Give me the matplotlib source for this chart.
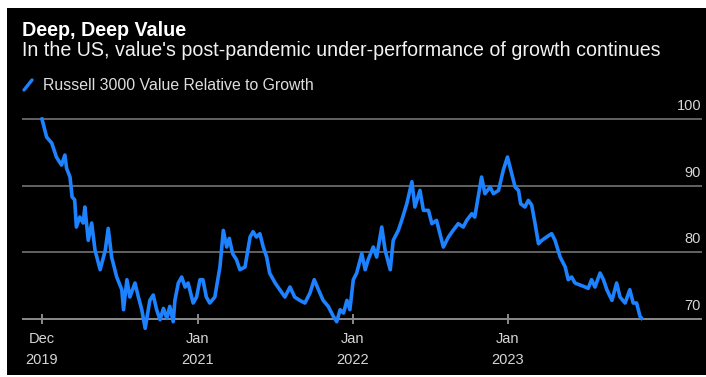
import pandas as pd
import numpy as np
import matplotlib
matplotlib.use("Agg")
import matplotlib.pyplot as plt
from matplotlib.patches import Rectangle
from matplotlib.lines import Line2D
import matplotlib.transforms as mtransforms

plt.rcParams['font.family'] = ['Liberation Sans', 'DejaVu Sans']

# Russell 3000 Value relative to Growth, rebased to 100 at end of 2019
dates = [
    "2019-12-31", "2020-01-11", "2020-01-23", "2020-02-03", "2020-02-15", "2020-02-23",
    "2020-02-27", "2020-03-06", "2020-03-11", "2020-03-17", "2020-03-21", "2020-03-29",
    "2020-04-06", "2020-04-10", "2020-04-18", "2020-04-26", "2020-05-04", "2020-05-16",
    "2020-05-28", "2020-06-04", "2020-06-12", "2020-06-24", "2020-07-06", "2020-07-10",
    "2020-07-18", "2020-07-25", "2020-08-06", "2020-08-14", "2020-08-22", "2020-08-30",
    "2020-09-10", "2020-09-18", "2020-09-26", "2020-10-04", "2020-10-12", "2020-10-20",
    "2020-10-27", "2020-11-04", "2020-11-08", "2020-11-16", "2020-11-24", "2020-12-02",
    "2020-12-09", "2020-12-13", "2020-12-21", "2020-12-29", "2021-01-06", "2021-01-13",
    "2021-01-21", "2021-01-29", "2021-02-10", "2021-02-22", "2021-03-02", "2021-03-10",
    "2021-03-16", "2021-03-24", "2021-04-02", "2021-04-10", "2021-04-22", "2021-05-04",
    "2021-05-11", "2021-05-19", "2021-05-27", "2021-06-04", "2021-06-12", "2021-06-19",
    "2021-07-02", "2021-07-13", "2021-07-25", "2021-08-06", "2021-08-17", "2021-08-29",
    "2021-09-10", "2021-09-22", "2021-10-02", "2021-10-12", "2021-10-23", "2021-11-04",
    "2021-11-16", "2021-11-24", "2021-12-02", "2021-12-10", "2021-12-18", "2021-12-25",
    "2022-01-02", "2022-01-10", "2022-01-22", "2022-01-30", "2022-02-06", "2022-02-18",
    "2022-02-26", "2022-03-10", "2022-03-18", "2022-03-30", "2022-04-06", "2022-04-18",
    "2022-04-26", "2022-05-08", "2022-05-20", "2022-05-27", "2022-06-08", "2022-06-16",
    "2022-06-28", "2022-07-06", "2022-07-17", "2022-07-25", "2022-08-02", "2022-08-14",
    "2022-08-25", "2022-09-06", "2022-09-18", "2022-09-26", "2022-10-08", "2022-10-15",
    "2022-10-23", "2022-10-31", "2022-11-08", "2022-11-20", "2022-11-28", "2022-12-10",
    "2022-12-21", "2022-12-31", "2023-01-10", "2023-01-18", "2023-01-26", "2023-01-31",
    "2023-02-10", "2023-02-18", "2023-02-26", "2023-03-06", "2023-03-14", "2023-03-22",
    "2023-04-02", "2023-04-14", "2023-04-22", "2023-05-04", "2023-05-16", "2023-05-23",
    "2023-05-31", "2023-06-08", "2023-06-20", "2023-07-02", "2023-07-09", "2023-07-17",
    "2023-07-25", "2023-08-06", "2023-08-14", "2023-08-22", "2023-09-03", "2023-09-14",
    "2023-09-22", "2023-10-04", "2023-10-15", "2023-10-23", "2023-10-31", "2023-11-08",
    "2023-11-12",
]
values = [
    100.0, 97.3, 96.4, 94.3, 93.1, 94.6,
    92.6, 91.3, 88.3, 87.9, 83.8, 85.3,
    84.4, 86.8, 81.8, 84.4, 80.3, 77.4,
    80.3, 83.6, 79.3, 76.3, 74.4, 71.4,
    75.9, 73.3, 75.4, 73.3, 71.4, 68.6,
    72.8, 73.6, 71.4, 69.9, 71.6, 70.1,
    71.9, 69.6, 72.8, 75.4, 76.3, 74.8,
    75.4, 74.4, 72.4, 73.3, 75.9, 75.9,
    73.3, 72.4, 73.3, 77.8, 83.3, 80.8,
    82.1, 79.8, 78.9, 77.4, 77.8, 82.3,
    83.1, 82.3, 82.8, 80.8, 79.3, 76.9,
    75.4, 74.4, 73.3, 74.8, 73.3, 72.8,
    72.4, 73.9, 75.9, 74.4, 72.8, 71.9,
    70.4, 69.6, 71.4, 70.9, 72.8, 71.4,
    75.9, 76.9, 79.8, 77.4, 78.9, 80.8,
    79.3, 83.8, 80.3, 77.4, 81.8, 83.3,
    84.8, 87.3, 90.6, 86.8, 89.3, 86.3,
    86.3, 84.3, 84.8, 82.8, 80.8, 82.3,
    83.3, 84.3, 83.8, 84.8, 85.8, 85.3,
    88.3, 91.3, 88.8, 89.8, 88.8, 89.3,
    92.3, 94.3, 91.8, 89.8, 89.3, 87.3,
    86.8, 87.8, 87.1, 84.3, 81.3, 81.8,
    82.3, 82.8, 81.8, 79.3, 77.8, 75.9,
    76.3, 75.4, 75.1, 74.8, 74.6, 75.9,
    74.8, 76.9, 75.9, 74.4, 72.8, 75.4,
    73.3, 72.4, 74.4, 72.4, 72.4, 70.4,
    70.1,
]

tick_dates = ["2019-12-31", "2021-01-01", "2022-01-01", "2023-01-01"]
tick_labels = ["Dec\n2019", "Jan\n2021", "Jan\n2022", "Jan\n2023"]
y_levels = [70, 80, 90, 100]

series = pd.Series(values, index=pd.to_datetime(dates))

W, H = 706, 377
fig = plt.figure(figsize=(W / 100, H / 100), dpi=100, facecolor="white")

# black card behind everything
fig.patches.append(Rectangle((7 / W, 2 / H), 699 / W, 367 / H,
                             transform=fig.transFigure, facecolor="black",
                             edgecolor="none", zorder=-10))

ax = fig.add_axes([22 / W, 41.3 / H, 680 / W, 220 / H])
ax.set_zorder(1)
ax.set_facecolor("none")
for s in ax.spines.values():
    s.set_visible(False)

grid_col = "#6a6a6a"
for lvl in y_levels[1:]:
    ax.axhline(lvl, color=grid_col, lw=1.3, zorder=1)
ax.axhline(y_levels[0], color="#8a8a8a", lw=1.4, zorder=1)

ax.plot(series.index, series.values, color="#1c82ff", lw=2.6,
        solid_joinstyle="round", zorder=3, clip_on=False)

ax.set_xlim(pd.Timestamp("2019-11-14"), pd.Timestamp("2024-04-02"))
ax.set_ylim(67.5, 100.5)

# y labels sit on the right, just above their grid line
lab_tr = mtransforms.blended_transform_factory(ax.transAxes, ax.transData)
lab_tr = mtransforms.offset_copy(lab_tr, fig=fig, x=-1, y=9, units="dots")
for lvl in y_levels:
    ax.text(1.0, lvl, str(lvl), transform=lab_tr, ha="right", va="baseline",
            color="#d6d6d6", fontsize=10.5)
ax.set_yticks([])

# x ticks hang from the 70 line, labels under them
ax.set_xticks([])
data_tr = mtransforms.blended_transform_factory(ax.transData, ax.transData)
lab_x_tr = mtransforms.offset_copy(data_tr, fig=fig, y=-13, units="dots")
for d, lab in zip(pd.to_datetime(tick_dates), tick_labels):
    ax.plot([d, d], [70, 70], marker="|", markersize=7, mew=1.2,
            color="#8a8a8a", zorder=2, clip_on=False)
    ax.text(d, 70, lab, transform=lab_x_tr, ha="center", va="top",
            color="#d6d6d6", fontsize=10.5, linespacing=1.6)

# headline, subtitle and legend
fig.text(22 / W, 1 - 36 / H, "Deep, Deep Value", color="white",
         fontsize=14.2, fontweight="bold", va="baseline", ha="left")
fig.text(22 / W, 1 - 56 / H,
         "In the US, value's post-pandemic under-performance of growth continues",
         color="#f2f2f2", fontsize=14.1, va="baseline", ha="left")
fig.lines.append(Line2D([24 / W, 32 / W], [1 - 90 / H, 1 - 80 / H],
                        transform=fig.transFigure, color="#1c82ff", lw=2.4,
                        solid_capstyle="round"))
fig.text(43 / W, 1 - 90.5 / H, "Russell 3000 Value Relative to Growth",
         color="#dedede", fontsize=11.4, va="baseline", ha="left")

fig.savefig("out.png", dpi=100, facecolor="white")
